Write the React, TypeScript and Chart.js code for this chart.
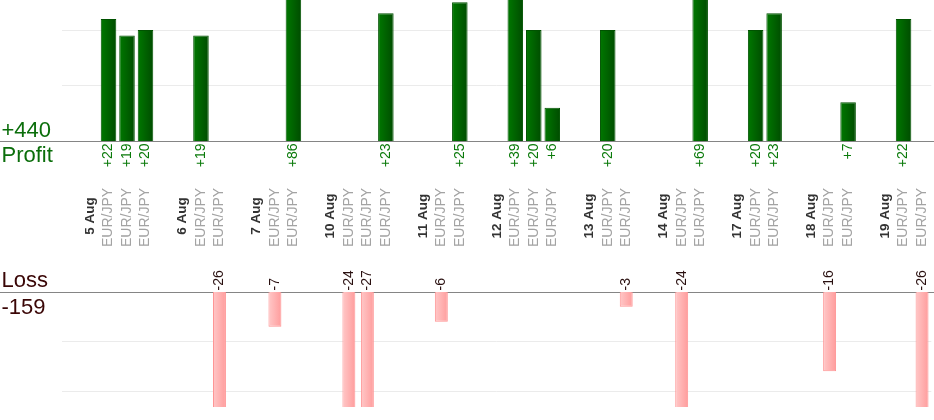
import React, { useEffect, useRef } from "react";
import { Chart, registerables } from "chart.js";

Chart.register(...registerables);

// One slot per category: empty spacer, date header, or a trade (EUR/JPY)
const categories: string[] = [
  "", "5 Aug", "EUR/JPY", "EUR/JPY", "EUR/JPY",
  "", "6 Aug", "EUR/JPY", "EUR/JPY",
  "", "7 Aug", "EUR/JPY", "EUR/JPY",
  "", "10 Aug", "EUR/JPY", "EUR/JPY", "EUR/JPY",
  "", "11 Aug", "EUR/JPY", "EUR/JPY",
  "", "12 Aug", "EUR/JPY", "EUR/JPY", "EUR/JPY",
  "", "13 Aug", "EUR/JPY", "EUR/JPY",
  "", "14 Aug", "EUR/JPY", "EUR/JPY",
  "", "17 Aug", "EUR/JPY", "EUR/JPY",
  "", "18 Aug", "EUR/JPY", "EUR/JPY",
  "", "19 Aug", "EUR/JPY", "EUR/JPY",
];

const profitValues: (number | null)[] = [
  null, null, 22, 19, 20,
  null, null, 19, null,
  null, null, null, 86,
  null, null, null, null, 23,
  null, null, null, 25,
  null, null, 39, 20, 6,
  null, null, 20, null,
  null, null, null, 69,
  null, null, 20, 23,
  null, null, null, 7,
  null, null, 22, null,
];

const lossValues: (number | null)[] = [
  null, null, null, null, null,
  null, null, null, -26,
  null, null, -7, null,
  null, null, -24, -27, null,
  null, null, -6, null,
  null, null, null, null, null,
  null, null, null, -3,
  null, null, -24, null,
  null, null, null, null,
  null, null, -16, null,
  null, null, null, -26,
];

const profitGridTicks = [10, 20];
const lossGridTicks = [-10, -20];

const FONT = "'Liberation Sans', Arial, sans-serif";
const PROFIT_BAR_PCT = 0.84;
const LOSS_BAR_PCT = 0.7;

function barGradient(c: any, pct: number, from: string, to: string, fallback: string) {
  const chart = c.chart;
  const xs = chart.scales && chart.scales.x;
  if (!xs || c.dataIndex === undefined || c.dataIndex === null) return fallback;
  const cx = xs.getPixelForValue(c.dataIndex);
  const pitch = xs.getPixelForValue(1) - xs.getPixelForValue(0);
  const hw = (pitch * pct) / 2;
  if (!isFinite(cx) || !isFinite(hw) || hw <= 0) return fallback;
  const g = chart.ctx.createLinearGradient(cx - hw, 0, cx + hw, 0);
  g.addColorStop(0, from);
  g.addColorStop(1, to);
  return g;
}

const overlayPlugin = {
  id: "overlay",
  beforeDatasetsDraw(chart: any) {
    const { ctx, width } = chart;
    const y0p = Math.round(chart.scales.yP.getPixelForValue(0)) + 0.5;
    const y0l = Math.round(chart.scales.yL.getPixelForValue(0)) + 0.5;
    ctx.save();
    ctx.strokeStyle = "#858585";
    ctx.lineWidth = 1;
    ctx.beginPath();
    ctx.moveTo(0, y0p);
    ctx.lineTo(width, y0p);
    ctx.moveTo(0, y0l);
    ctx.lineTo(width, y0l);
    ctx.stroke();
    ctx.restore();
  },
  afterDraw(chart: any) {
    const { ctx } = chart;
    const xs = chart.scales.x;
    const y0p = chart.scales.yP.getPixelForValue(0);
    const y0l = chart.scales.yL.getPixelForValue(0);
    ctx.save();

    // value labels + category labels
    categories.forEach((label, i) => {
      const x = xs.getPixelForValue(i);
      const p = profitValues[i];
      const l = lossValues[i];
      if (p !== null && p !== undefined) {
        ctx.save();
        ctx.translate(x, y0p + 2.5);
        ctx.rotate(-Math.PI / 2);
        ctx.font = `14px ${FONT}`;
        ctx.fillStyle = "#0a7a0a";
        ctx.textAlign = "right";
        ctx.textBaseline = "middle";
        ctx.fillText(`+${p}`, 0, 0);
        ctx.restore();
      }
      if (l !== null && l !== undefined) {
        ctx.save();
        ctx.translate(x, y0l - 1.5);
        ctx.rotate(-Math.PI / 2);
        ctx.font = `14px ${FONT}`;
        ctx.fillStyle = "#2a1010";
        ctx.textAlign = "left";
        ctx.textBaseline = "middle";
        ctx.fillText(`${l}`, 0, 0);
        ctx.restore();
      }
      if (label) {
        const isPair = label === "EUR/JPY";
        ctx.save();
        ctx.translate(x, isPair ? 217.5 : 216);
        ctx.rotate(-Math.PI / 2);
        ctx.font = isPair ? `14px ${FONT}` : `bold 13.5px ${FONT}`;
        ctx.fillStyle = isPair ? "#a3a3a3" : "#333333";
        ctx.textAlign = "center";
        ctx.textBaseline = "middle";
        ctx.fillText(label, 0, 0);
        ctx.restore();
      }
    });

    // totals
    const totalProfit = profitValues.reduce((s: number, v) => s + (v || 0), 0);
    const totalLoss = lossValues.reduce((s: number, v) => s + (v || 0), 0);
    ctx.font = `22px ${FONT}`;
    ctx.textAlign = "left";
    ctx.textBaseline = "alphabetic";
    ctx.fillStyle = "#0b6e0b";
    ctx.fillText(`+${totalProfit}`, 1.5, y0p - 4);
    ctx.fillText("Profit", 1.5, y0p + 21);
    ctx.fillStyle = "#3a0606";
    ctx.fillText("Loss", 1.5, y0l - 5);
    ctx.fillText(`${totalLoss}`, 1.5, y0l + 22);
    ctx.restore();
  },
};

export default function App() {
  const canvasRef = useRef<HTMLCanvasElement | null>(null);

  useEffect(() => {
    const canvas = canvasRef.current;
    if (!canvas) return;
    const chart = new Chart(canvas, {
      type: "bar",
      data: {
        labels: categories,
        datasets: [
          {
            label: "Profit",
            data: profitValues as any,
            yAxisID: "yP",
            grouped: false,
            clip: 0,
            barPercentage: PROFIT_BAR_PCT,
            categoryPercentage: 1,
            backgroundColor: (c: any) => barGradient(c, PROFIT_BAR_PCT, "#007800", "#004c00", "#006400"),
            borderColor: "#005200",
            borderWidth: 1,
          } as any,
          {
            label: "Loss",
            data: lossValues as any,
            yAxisID: "yL",
            grouped: false,
            clip: 0,
            barPercentage: LOSS_BAR_PCT,
            categoryPercentage: 1,
            backgroundColor: (c: any) => barGradient(c, LOSS_BAR_PCT, "#ffc8c8", "#ff9c9c", "#ffb0b0"),
            borderColor: "#ff9494",
            borderWidth: 1,
          } as any,
        ],
      },
      options: {
        responsive: false,
        animation: false,
        events: [],
        layout: { padding: { left: 62.3, right: 2.7, top: 0, bottom: 13 } },
        plugins: {
          legend: { display: false },
          tooltip: { enabled: false },
          title: { display: false },
        },
        scales: {
          x: {
            type: "category",
            display: false,
            offset: true,
          },
          yP: {
            type: "linear",
            position: "left",
            min: -47.93,
            max: 25.41,
            afterBuildTicks: (axis: any) => {
              axis.ticks = profitGridTicks.map((v) => ({ value: v }));
            },
            ticks: { display: false },
            border: { display: false },
            grid: { color: "#ebebeb", lineWidth: 1, drawTicks: false },
          },
          yL: {
            type: "linear",
            position: "left",
            min: -23.23,
            max: 58.99,
            afterBuildTicks: (axis: any) => {
              axis.ticks = lossGridTicks.map((v) => ({ value: v }));
            },
            ticks: { display: false },
            border: { display: false },
            grid: { color: "#ebebeb", lineWidth: 1, drawTicks: false },
          },
        },
      } as any,
      plugins: [overlayPlugin],
    });
    return () => chart.destroy();
  }, []);

  return (
    <div style={{ position: "fixed", left: 0, top: 0, width: 934, height: 420, background: "#ffffff" }}>
      <canvas ref={canvasRef} width={934} height={420} style={{ display: "block", width: 934, height: 420 }} />
    </div>
  );
}
